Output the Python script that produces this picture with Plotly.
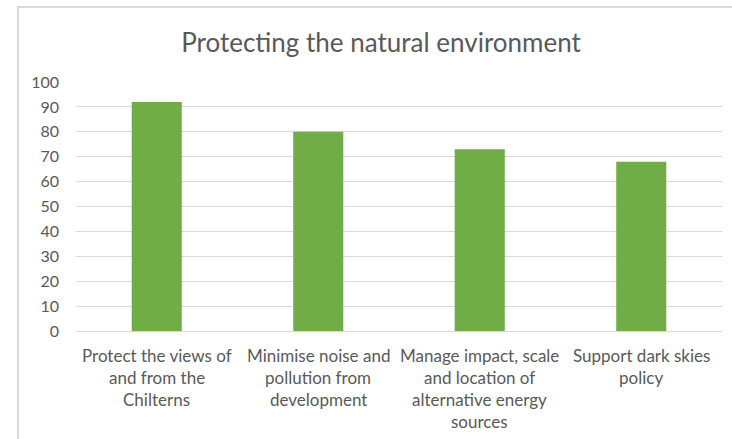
import plotly.graph_objects as go

# Survey results: support for natural-environment policies (%)
categories = [
    "Protect the views of<br>and from the<br>Chilterns",
    "Minimise noise and<br>pollution from<br>development",
    "Manage impact, scale<br>and location of<br>alternative energy<br>sources",
    "Support dark skies<br>policy",
]
values = [92, 80, 73, 68]
y_ticks = list(range(0, 101, 10))

TEXT = "#595959"
GRID = "#d9d9d9"
GREEN = "#70ad47"
FONT = "Lato, 'Open Sans', sans-serif"

fig = go.Figure(
    go.Bar(
        x=categories,
        y=values,
        marker=dict(color=GREEN, line=dict(width=0)),
        hoverinfo="y",
    )
)

W, H = 732, 439
ml, mr, mt, mb = 76, 10, 82, 108
pw = W - ml - mr
ph = H - mt - mb

# Category labels: one annotation per wrapped line for Office-like line spacing
LINE_GAP = 22
for cat in categories:
    for i, line in enumerate(cat.split("<br>")):
        fig.add_annotation(
            x=cat, y=0, xref="x", yref="y",
            text=line, showarrow=False,
            yanchor="middle", xanchor="center",
            yshift=-(24 + i * LINE_GAP),
            font=dict(size=17, color=TEXT, family=FONT),
        )

# Chart frame (left and top edges visible within the page)
fig.add_shape(
    type="rect", xref="paper", yref="paper",
    x0=(18 - ml) / pw, x1=1 + (W + 12 - ml - pw) / pw,
    y0=-(H + 5 - (H - mb)) / ph, y1=1 + (mt - 7) / ph,
    line=dict(color="#d9d9d9", width=2), fillcolor="rgba(0,0,0,0)", layer="below",
)

fig.update_layout(
    width=W, height=H,
    margin=dict(l=ml, r=mr, t=mt, b=mb),
    paper_bgcolor="white", plot_bgcolor="white",
    bargap=0.69,
    showlegend=False,
    font=dict(family=FONT, color=TEXT, size=15),
    title=dict(
        text="Protecting the natural environment",
        x=(381 - ml) / pw, xref="paper", xanchor="center",
        y=1 - 43 / H, yanchor="middle",
        font=dict(size=26, color=TEXT, family=FONT),
    ),
    xaxis=dict(
        showgrid=False, showline=True, linecolor=GRID, linewidth=1,
        ticks="", showticklabels=False,
    ),
    yaxis=dict(
        range=[0, 100], tickvals=y_ticks, showgrid=True, gridcolor=GRID, gridwidth=1,
        zeroline=False, showline=False, ticks="",
        tickfont=dict(size=16, color=TEXT), ticklabelstandoff=16,
    ),
)

fig.write_html("out.html")
